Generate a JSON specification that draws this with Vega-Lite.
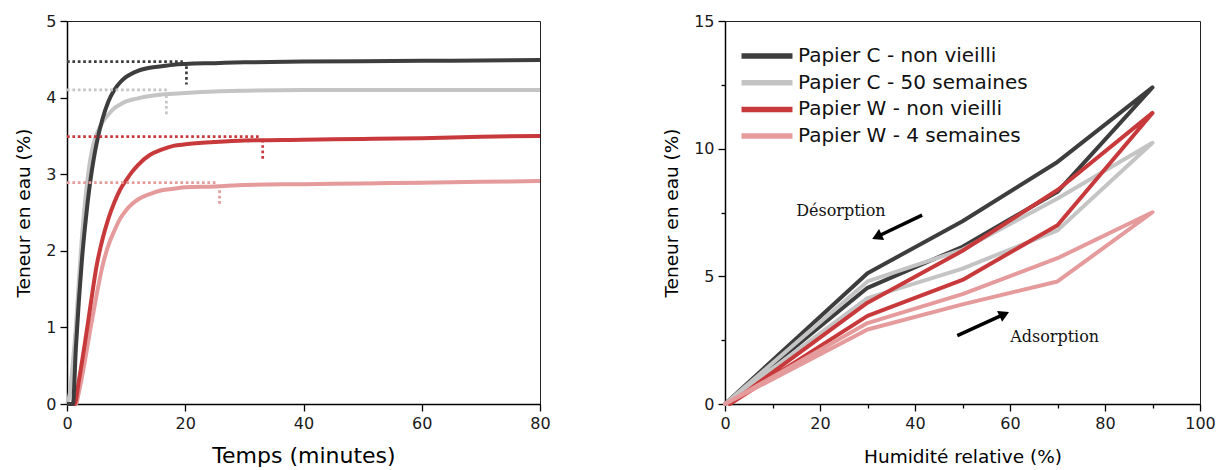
{
  "$schema": "https://vega.github.io/schema/vega-lite/v6.json",
  "padding": {"left": 14, "top": 12, "right": 5, "bottom": 0},
  "config": {
    "font": "DejaVu Sans",
    "view": {"stroke": "#222", "strokeWidth": 1},
    "axis": {"domainColor": "#000", "domainWidth": 1.5, "tickColor": "#000", "tickWidth": 1.3, "labelColor": "#1a1a1a", "titleColor": "#000", "grid": false, "labelFont": "DejaVu Sans", "titleFont": "DejaVu Sans", "titleFontWeight": "normal", "labelFontSize": 16, "labelPadding": 4, "labelFlush": false}
  },
  "datasets": {
    "kin": [
      {"s": "Papier W - 4 semaines", "t": 0, "v": 0}, {"s": "Papier W - 4 semaines", "t": 1.5, "v": 0}, {"s": "Papier W - 4 semaines", "t": 2, "v": 0.15}, {"s": "Papier W - 4 semaines", "t": 3, "v": 0.55}, {"s": "Papier W - 4 semaines", "t": 4, "v": 1.0}, {"s": "Papier W - 4 semaines", "t": 5, "v": 1.42}, {"s": "Papier W - 4 semaines", "t": 6, "v": 1.8}, {"s": "Papier W - 4 semaines", "t": 7, "v": 2.07}, {"s": "Papier W - 4 semaines", "t": 8, "v": 2.26}, {"s": "Papier W - 4 semaines", "t": 9, "v": 2.42}, {"s": "Papier W - 4 semaines", "t": 10, "v": 2.53}, {"s": "Papier W - 4 semaines", "t": 11, "v": 2.61}, {"s": "Papier W - 4 semaines", "t": 12, "v": 2.67}, {"s": "Papier W - 4 semaines", "t": 14, "v": 2.74}, {"s": "Papier W - 4 semaines", "t": 16, "v": 2.79}, {"s": "Papier W - 4 semaines", "t": 18, "v": 2.81}, {"s": "Papier W - 4 semaines", "t": 20, "v": 2.83}, {"s": "Papier W - 4 semaines", "t": 25, "v": 2.84}, {"s": "Papier W - 4 semaines", "t": 30, "v": 2.86}, {"s": "Papier W - 4 semaines", "t": 40, "v": 2.87}, {"s": "Papier W - 4 semaines", "t": 50, "v": 2.88}, {"s": "Papier W - 4 semaines", "t": 60, "v": 2.89}, {"s": "Papier W - 4 semaines", "t": 70, "v": 2.9}, {"s": "Papier W - 4 semaines", "t": 80, "v": 2.91},
      {"s": "Papier W - non vieilli", "t": 0, "v": 0}, {"s": "Papier W - non vieilli", "t": 1.3, "v": 0}, {"s": "Papier W - non vieilli", "t": 2, "v": 0.3}, {"s": "Papier W - non vieilli", "t": 3, "v": 0.78}, {"s": "Papier W - non vieilli", "t": 4, "v": 1.3}, {"s": "Papier W - non vieilli", "t": 5, "v": 1.8}, {"s": "Papier W - non vieilli", "t": 6, "v": 2.15}, {"s": "Papier W - non vieilli", "t": 7, "v": 2.42}, {"s": "Papier W - non vieilli", "t": 8, "v": 2.63}, {"s": "Papier W - non vieilli", "t": 9, "v": 2.8}, {"s": "Papier W - non vieilli", "t": 10, "v": 2.92}, {"s": "Papier W - non vieilli", "t": 11, "v": 3.03}, {"s": "Papier W - non vieilli", "t": 12, "v": 3.12}, {"s": "Papier W - non vieilli", "t": 14, "v": 3.25}, {"s": "Papier W - non vieilli", "t": 16, "v": 3.32}, {"s": "Papier W - non vieilli", "t": 18, "v": 3.37}, {"s": "Papier W - non vieilli", "t": 20, "v": 3.39}, {"s": "Papier W - non vieilli", "t": 25, "v": 3.42}, {"s": "Papier W - non vieilli", "t": 30, "v": 3.44}, {"s": "Papier W - non vieilli", "t": 40, "v": 3.45}, {"s": "Papier W - non vieilli", "t": 50, "v": 3.46}, {"s": "Papier W - non vieilli", "t": 60, "v": 3.47}, {"s": "Papier W - non vieilli", "t": 70, "v": 3.49}, {"s": "Papier W - non vieilli", "t": 80, "v": 3.5},
      {"s": "Papier C - 50 semaines", "t": 0, "v": 0}, {"s": "Papier C - 50 semaines", "t": 0.5, "v": 0.15}, {"s": "Papier C - 50 semaines", "t": 1, "v": 0.55}, {"s": "Papier C - 50 semaines", "t": 1.5, "v": 1.0}, {"s": "Papier C - 50 semaines", "t": 2, "v": 1.6}, {"s": "Papier C - 50 semaines", "t": 2.5, "v": 2.15}, {"s": "Papier C - 50 semaines", "t": 3, "v": 2.6}, {"s": "Papier C - 50 semaines", "t": 3.5, "v": 2.95}, {"s": "Papier C - 50 semaines", "t": 4, "v": 3.22}, {"s": "Papier C - 50 semaines", "t": 4.5, "v": 3.4}, {"s": "Papier C - 50 semaines", "t": 5, "v": 3.52}, {"s": "Papier C - 50 semaines", "t": 6, "v": 3.68}, {"s": "Papier C - 50 semaines", "t": 7, "v": 3.78}, {"s": "Papier C - 50 semaines", "t": 8, "v": 3.86}, {"s": "Papier C - 50 semaines", "t": 9, "v": 3.91}, {"s": "Papier C - 50 semaines", "t": 10, "v": 3.95}, {"s": "Papier C - 50 semaines", "t": 12, "v": 3.99}, {"s": "Papier C - 50 semaines", "t": 14, "v": 4.02}, {"s": "Papier C - 50 semaines", "t": 16, "v": 4.04}, {"s": "Papier C - 50 semaines", "t": 18, "v": 4.05}, {"s": "Papier C - 50 semaines", "t": 20, "v": 4.06}, {"s": "Papier C - 50 semaines", "t": 25, "v": 4.08}, {"s": "Papier C - 50 semaines", "t": 30, "v": 4.09}, {"s": "Papier C - 50 semaines", "t": 40, "v": 4.1}, {"s": "Papier C - 50 semaines", "t": 50, "v": 4.1}, {"s": "Papier C - 50 semaines", "t": 60, "v": 4.1}, {"s": "Papier C - 50 semaines", "t": 70, "v": 4.1}, {"s": "Papier C - 50 semaines", "t": 80, "v": 4.1},
      {"s": "Papier C - non vieilli", "t": 0, "v": 0}, {"s": "Papier C - non vieilli", "t": 1, "v": 0}, {"s": "Papier C - non vieilli", "t": 1.5, "v": 0.73}, {"s": "Papier C - non vieilli", "t": 2, "v": 1.34}, {"s": "Papier C - non vieilli", "t": 2.5, "v": 1.86}, {"s": "Papier C - non vieilli", "t": 3, "v": 2.28}, {"s": "Papier C - non vieilli", "t": 3.5, "v": 2.64}, {"s": "Papier C - non vieilli", "t": 4, "v": 2.94}, {"s": "Papier C - non vieilli", "t": 4.5, "v": 3.19}, {"s": "Papier C - non vieilli", "t": 5, "v": 3.4}, {"s": "Papier C - non vieilli", "t": 6, "v": 3.72}, {"s": "Papier C - non vieilli", "t": 7, "v": 3.95}, {"s": "Papier C - non vieilli", "t": 8, "v": 4.1}, {"s": "Papier C - non vieilli", "t": 9, "v": 4.2}, {"s": "Papier C - non vieilli", "t": 10, "v": 4.27}, {"s": "Papier C - non vieilli", "t": 12, "v": 4.35}, {"s": "Papier C - non vieilli", "t": 14, "v": 4.39}, {"s": "Papier C - non vieilli", "t": 16, "v": 4.41}, {"s": "Papier C - non vieilli", "t": 18, "v": 4.43}, {"s": "Papier C - non vieilli", "t": 20, "v": 4.44}, {"s": "Papier C - non vieilli", "t": 25, "v": 4.45}, {"s": "Papier C - non vieilli", "t": 30, "v": 4.46}, {"s": "Papier C - non vieilli", "t": 40, "v": 4.47}, {"s": "Papier C - non vieilli", "t": 50, "v": 4.475}, {"s": "Papier C - non vieilli", "t": 60, "v": 4.48}, {"s": "Papier C - non vieilli", "t": 70, "v": 4.485}, {"s": "Papier C - non vieilli", "t": 80, "v": 4.49}
    ],
    "dots": [
      {"s": "Papier C - non vieilli", "x1": 0, "x2": 19.6, "y1": 4.47, "y2": 4.47},
      {"s": "Papier C - non vieilli", "x1": 20.2, "x2": 20.2, "y1": 4.41, "y2": 4.17},
      {"s": "Papier C - 50 semaines", "x1": 0, "x2": 17, "y1": 4.1, "y2": 4.1},
      {"s": "Papier C - 50 semaines", "x1": 16.8, "x2": 16.8, "y1": 4.03, "y2": 3.78},
      {"s": "Papier W - non vieilli", "x1": 0, "x2": 32.8, "y1": 3.49, "y2": 3.49},
      {"s": "Papier W - non vieilli", "x1": 33.1, "x2": 33.1, "y1": 3.45, "y2": 3.17},
      {"s": "Papier W - 4 semaines", "x1": 0, "x2": 25.5, "y1": 2.89, "y2": 2.89},
      {"s": "Papier W - 4 semaines", "x1": 25.8, "x2": 25.8, "y1": 2.86, "y2": 2.58}
    ],
    "iso": [
      {"s": "Papier C - non vieilli", "i": 0, "rh": 0, "w": 0}, {"s": "Papier C - non vieilli", "i": 1, "rh": 30, "w": 4.55}, {"s": "Papier C - non vieilli", "i": 2, "rh": 50, "w": 6.16}, {"s": "Papier C - non vieilli", "i": 3, "rh": 70, "w": 8.31}, {"s": "Papier C - non vieilli", "i": 4, "rh": 90, "w": 12.4}, {"s": "Papier C - non vieilli", "i": 5, "rh": 70, "w": 9.48}, {"s": "Papier C - non vieilli", "i": 6, "rh": 50, "w": 7.16}, {"s": "Papier C - non vieilli", "i": 7, "rh": 30, "w": 5.12}, {"s": "Papier C - non vieilli", "i": 8, "rh": 0, "w": 0},
      {"s": "Papier C - 50 semaines", "i": 0, "rh": 0, "w": 0}, {"s": "Papier C - 50 semaines", "i": 1, "rh": 30, "w": 4.15}, {"s": "Papier C - 50 semaines", "i": 2, "rh": 50, "w": 5.3}, {"s": "Papier C - 50 semaines", "i": 3, "rh": 70, "w": 6.8}, {"s": "Papier C - 50 semaines", "i": 4, "rh": 90, "w": 10.23}, {"s": "Papier C - 50 semaines", "i": 5, "rh": 70, "w": 8.05}, {"s": "Papier C - 50 semaines", "i": 6, "rh": 50, "w": 6.05}, {"s": "Papier C - 50 semaines", "i": 7, "rh": 30, "w": 4.8}, {"s": "Papier C - 50 semaines", "i": 8, "rh": 0, "w": 0},
      {"s": "Papier W - non vieilli", "i": 0, "rh": 1, "w": 0}, {"s": "Papier W - non vieilli", "i": 1, "rh": 30, "w": 3.45}, {"s": "Papier W - non vieilli", "i": 2, "rh": 50, "w": 4.86}, {"s": "Papier W - non vieilli", "i": 3, "rh": 70, "w": 7.0}, {"s": "Papier W - non vieilli", "i": 4, "rh": 90, "w": 11.4}, {"s": "Papier W - non vieilli", "i": 5, "rh": 70, "w": 8.38}, {"s": "Papier W - non vieilli", "i": 6, "rh": 50, "w": 6.0}, {"s": "Papier W - non vieilli", "i": 7, "rh": 30, "w": 3.97}, {"s": "Papier W - non vieilli", "i": 8, "rh": 1, "w": 0},
      {"s": "Papier W - 4 semaines", "i": 0, "rh": 0, "w": 0}, {"s": "Papier W - 4 semaines", "i": 1, "rh": 30, "w": 2.92}, {"s": "Papier W - 4 semaines", "i": 2, "rh": 50, "w": 3.9}, {"s": "Papier W - 4 semaines", "i": 3, "rh": 70, "w": 4.8}, {"s": "Papier W - 4 semaines", "i": 4, "rh": 90, "w": 7.51}, {"s": "Papier W - 4 semaines", "i": 5, "rh": 70, "w": 5.71}, {"s": "Papier W - 4 semaines", "i": 6, "rh": 50, "w": 4.3}, {"s": "Papier W - 4 semaines", "i": 7, "rh": 30, "w": 3.17}, {"s": "Papier W - 4 semaines", "i": 8, "rh": 0, "w": 0}
    ],
    "arrows": [
      {"k": "des", "x1": 41.5, "y1": 7.40, "x2": 31.98, "y2": 6.55},
      {"k": "ads", "x1": 48.9, "y1": 2.68, "x2": 58.8, "y2": 3.52}
    ],
    "notes": [
      {"label": "Désorption", "x": 24.4, "y": 7.56},
      {"label": "Adsorption", "x": 69.4, "y": 2.61}
    ]
  },
  "spacing": 185,
  "bounds": "flush",
  "resolve": {"scale": {"color": "independent"}, "legend": {"color": "independent"}},
  "hconcat": [
    {
      "width": 473,
      "height": 383,
      "layer": [
        {
          "data": {"name": "kin"},
          "mark": {"type": "line", "strokeWidth": 4, "interpolate": "monotone"},
          "encoding": {
            "x": {"field": "t", "type": "quantitative", "scale": {"domain": [0, 80], "nice": false},
              "axis": {"title": "Temps (minutes)", "values": [0, 20, 40, 60, 80], "tickSize": 7, "titleFontSize": 22, "titlePadding": 14}},
            "y": {"field": "v", "type": "quantitative", "scale": {"domain": [0, 5], "nice": false},
              "axis": {"title": "Teneur en eau (%)", "values": [0, 0.5, 1, 1.5, 2, 2.5, 3, 3.5, 4, 4.5, 5], "labelExpr": "datum.value % 1 === 0 ? format(datum.value, 'd') : ''", "tickSize": {"condition": {"test": "datum.value % 1 === 0", "value": 7}, "value": 4}, "titleFontSize": 18.5, "titlePadding": 12}},
            "color": {"field": "s", "type": "nominal", "scale": {"domain": ["Papier C - non vieilli", "Papier C - 50 semaines", "Papier W - non vieilli", "Papier W - 4 semaines"], "range": ["#3d3d3d", "#c4c4c4", "#c8393b", "#e59a9c"]}, "legend": null}
          }
        },
        {
          "data": {"name": "dots"},
          "mark": {"type": "rule", "strokeWidth": 2.7, "strokeDash": [2.7, 2.7]},
          "encoding": {
            "x": {"field": "x1", "type": "quantitative"},
            "x2": {"field": "x2"},
            "y": {"field": "y1", "type": "quantitative"},
            "y2": {"field": "y2"},
            "color": {"field": "s", "type": "nominal", "legend": null}
          }
        }
      ]
    },
    {
      "width": 475,
      "height": 383,
      "layer": [
        {
          "data": {"name": "iso"},
          "mark": {"type": "line", "strokeWidth": 4, "strokeCap": "round", "strokeJoin": "round"},
          "encoding": {
            "x": {"field": "rh", "type": "quantitative", "scale": {"domain": [0, 100], "nice": false},
              "axis": {"title": "Humidité relative (%)", "values": [0, 10, 20, 30, 40, 50, 60, 70, 80, 90, 100], "labelExpr": "datum.value % 20 === 0 ? format(datum.value, 'd') : ''", "tickSize": {"condition": {"test": "datum.value % 20 === 0", "value": 7}, "value": 4}, "titleFontSize": 18.5, "titlePadding": 16}},
            "y": {"field": "w", "type": "quantitative", "scale": {"domain": [0, 15], "nice": false},
              "axis": {"title": "Teneur en eau (%)", "values": [0, 2.5, 5, 7.5, 10, 12.5, 15], "labelExpr": "datum.value % 5 === 0 ? format(datum.value, 'd') : ''", "tickSize": {"condition": {"test": "datum.value % 5 === 0", "value": 7}, "value": 4}, "titleFontSize": 18.5, "titlePadding": 12}},
            "order": {"field": "i", "type": "quantitative"},
            "color": {"field": "s", "type": "nominal", "scale": {"domain": ["Papier C - non vieilli", "Papier C - 50 semaines", "Papier W - non vieilli", "Papier W - 4 semaines"], "range": ["#3d3d3d", "#c4c4c4", "#c8393b", "#e59a9c"]},
              "legend": {"orient": "none", "legendX": 29, "legendY": 22, "title": null, "symbolType": "M-2.5,0H2.5", "symbolSize": 416, "symbolStrokeWidth": 5.5, "labelFontSize": 20, "labelFont": "DejaVu Sans", "labelColor": "#111", "labelLimit": 0, "rowPadding": 2.7, "labelOffset": 18, "padding": 0}}
          }
        },
        {
          "data": {"name": "arrows"},
          "mark": {"type": "rule", "strokeWidth": 3.5, "color": "#000"},
          "encoding": {
            "x": {"field": "x1", "type": "quantitative"},
            "x2": {"field": "x2"},
            "y": {"field": "y1", "type": "quantitative"},
            "y2": {"field": "y2"}
          }
        },
        {
          "data": {"name": "arrows"},
          "transform": [{"filter": "datum.k === 'des'"}],
          "mark": {"type": "point", "shape": "triangle-up", "filled": true, "size": 144, "angle": 245, "color": "#000", "opacity": 1},
          "encoding": {
            "x": {"field": "x2", "type": "quantitative"},
            "y": {"field": "y2", "type": "quantitative"}
          }
        },
        {
          "data": {"name": "arrows"},
          "transform": [{"filter": "datum.k === 'ads'"}],
          "mark": {"type": "point", "shape": "triangle-up", "filled": true, "size": 144, "angle": 65, "color": "#000", "opacity": 1},
          "encoding": {
            "x": {"field": "x2", "type": "quantitative"},
            "y": {"field": "y2", "type": "quantitative"}
          }
        },
        {
          "data": {"name": "notes"},
          "mark": {"type": "text", "font": "DejaVu Serif", "fontSize": 16, "color": "#111", "align": "center", "baseline": "middle"},
          "encoding": {
            "x": {"field": "x", "type": "quantitative"},
            "y": {"field": "y", "type": "quantitative"},
            "text": {"field": "label"}
          }
        }
      ]
    }
  ]
}
